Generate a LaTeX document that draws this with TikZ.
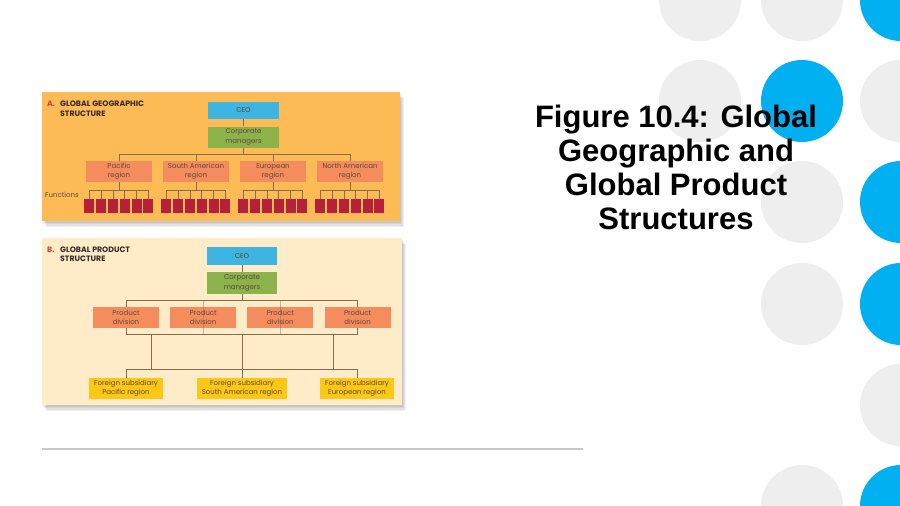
\documentclass[tikz,border=0pt]{standalone}
\usepackage{fontspec}
\setmainfont{Liberation Sans}
\newfontfamily\orgfont{Poppins}
\usetikzlibrary{calc}
\definecolor{ringgray}{RGB}{238,238,238}
\definecolor{ringblue}{RGB}{0,176,240}
\definecolor{panelA}{RGB}{252,187,84}
\definecolor{panelB}{RGB}{254,236,200}
\definecolor{orgblue}{RGB}{62,180,225}
\definecolor{orggreen}{RGB}{140,178,76}
\definecolor{orgsalmon}{RGB}{245,140,94}
\definecolor{orgred}{RGB}{183,32,58}
\definecolor{orggold}{RGB}{253,199,22}
\definecolor{orgtext}{RGB}{95,72,55}
\definecolor{orgline}{RGB}{135,108,80}
\definecolor{tagred}{RGB}{222,62,62}
\definecolor{headdark}{RGB}{55,38,38}
\definecolor{rulegray}{RGB}{200,200,200}

\tikzset{
  orgbox/.style={font=\orgfont\fontsize{7}{9.5}\selectfont, text=orgtext, align=center, inner sep=0pt},
  ceobox/.style={orgbox, fill=orgblue, minimum width=71pt, minimum height=17pt},
  mgrbox/.style={orgbox, fill=orggreen, minimum width=71pt, minimum height=21pt},
  regbox/.style={orgbox, fill=orgsalmon, minimum width=66pt, minimum height=21pt},
  funbox/.style={fill=orgred, minimum width=10pt, minimum height=14pt, inner sep=0pt},
  subbox/.style={orgbox, fill=orggold, minimum height=21pt},
  conn/.style={orgline, line width=0.6pt},
  panelhead/.style={font=\orgfont\bfseries\fontsize{7.8}{9.5}\selectfont, text=headdark, align=left, anchor=north west, inner sep=0pt},
  paneltag/.style={font=\orgfont\bfseries\fontsize{7.8}{9.5}\selectfont, text=tagred, anchor=north west, inner sep=0pt}
}

\begin{document}
\begin{tikzpicture}[x=1pt,y=-1pt]
  \clip (0,0) rectangle (900,506);
  \fill[white] (0,0) rectangle (900,506);
  % dots on the right
  \foreach \cx/\cy/\col in {700/0/ringgray,700/101/ringgray,802/0/ringgray,802/101/ringblue,
      802/202/ringgray,802/304/ringgray,802/506/ringgray,901/0/ringblue,901/101/ringgray,
      901/202/ringblue,901/304/ringblue,901/405/ringgray,901/506/ringblue}
    \fill[\col] (\cx,\cy) circle (41pt);

  \node[font=\bfseries\fontsize{31}{34}\selectfont, align=center, anchor=north, inner sep=0pt] (title)
    at (676,104.5) {Figure 10.4: Global\\Geographic and\\Global Product\\Structures};

  % panels with soft shadow
  \foreach \k in {1,...,4} {
    \fill[black, opacity=0.06] (42+\k,92+1.5*\k) rectangle (400+\k,221+1.5*\k);
    \fill[black, opacity=0.06] (42+\k,238+1.5*\k) rectangle (402+\k,405+1.5*\k);
  }
  \fill[panelA] (42,92) rectangle (400,221);
  \fill[panelB] (42,238) rectangle (402,405);

  % A. global geographic structure
  \node[paneltag] (tagA) at (47,101) {A.};
  \node[panelhead] (headA) at (60,101) {GLOBAL GEOGRAPHIC\\STRUCTURE};
  \node[ceobox] (ceoA) at (243.5,110.5) {CEO};
  \node[mgrbox] (mgrA) at (243.5,137) {Corporate\\managers};
  \foreach \i/\txt in {1/Pacific,2/South American,3/European,4/North American}
    \node[regbox] (regA\i) at ({119+77*(\i-1)},171.5) {\txt\\region};
  \foreach \i in {1,...,4}
    \foreach \j in {1,...,6}
      \node[funbox] (fun\i\j) at ({89.3+77*(\i-1)+11.8*(\j-1)},206) {};
  \node[orgbox, anchor=base west] (funlab) at (45,197.5) {Functions};
  \coordinate (barA) at (243.5,154);
  \draw[conn] (ceoA) -- (mgrA);
  \draw[conn] (mgrA) -- (barA);
  \draw[conn] (regA1.north) -- (regA1.north |- barA) -- (regA4.north |- barA) -- (regA4.north);
  \foreach \i in {2,3}
    \draw[conn] (regA\i.north) -- (regA\i.north |- barA);
  \foreach \i in {1,...,4} {
    \draw[conn] (regA\i.south) -- ++(0,8);
    \draw[conn] (fun\i1.north) -- ++(0,-9) -- ($(fun\i6.north)+(0,-9)$) -- (fun\i6.north);
    \foreach \j in {2,...,5}
      \draw[conn] (fun\i\j.north) -- ++(0,-9);
  }

  % B. global product structure
  \node[paneltag] (tagB) at (47,246.5) {B.};
  \node[panelhead] (headB) at (60,246.5) {GLOBAL PRODUCT\\STRUCTURE};
  \node[ceobox, minimum width=70pt, minimum height=18pt] (ceoB) at (242,256) {CEO};
  \node[mgrbox, minimum width=70pt, minimum height=22pt] (mgrB) at (242,283) {Corporate\\managers};
  \foreach \i in {1,...,4}
    \node[regbox] (divB\i) at ({126+77.2*(\i-1)},317.5) {Product\\division};
  \node[subbox, minimum width=74pt] (subB1) at (126,388.5) {Foreign subsidiary\\Pacific region};
  \node[subbox, minimum width=90pt] (subB2) at (242,388.5) {Foreign subsidiary\\South American region};
  \node[subbox, minimum width=74pt] (subB3) at (357,388.5) {Foreign subsidiary\\European region};
  \coordinate (topB) at (242,300.7);
  \coordinate (botB) at (242,334);
  \coordinate (lowB) at (242,369);
  \coordinate (midL) at (151,334);
  \coordinate (midR) at (333,334);
  \draw[conn] (ceoB) -- (mgrB);
  \draw[conn] (mgrB) -- (topB);
  \draw[conn] (divB1.north) -- (divB1.north |- topB) -- (divB4.north |- topB) -- (divB4.north);
  \draw[conn] (divB1.south) -- (divB1.south |- botB) -- (divB4.south |- botB) -- (divB4.south);
  \foreach \i in {2,3}
    \draw[conn, opacity=0.45] (divB\i.center |- topB) -- (divB\i.center |- botB);
  \draw[conn] (midL) -- (midL |- lowB);
  \draw[conn] (midR) -- (midR |- lowB);
  \draw[conn] (botB) -- (subB2.north);
  \draw[conn] (subB1.north) -- (subB1.north |- lowB) -- (subB3.north |- lowB) -- (subB3.north);

  \draw[rulegray, line width=1.2pt] (42,449) -- (583,449);
\end{tikzpicture}
\end{document}
